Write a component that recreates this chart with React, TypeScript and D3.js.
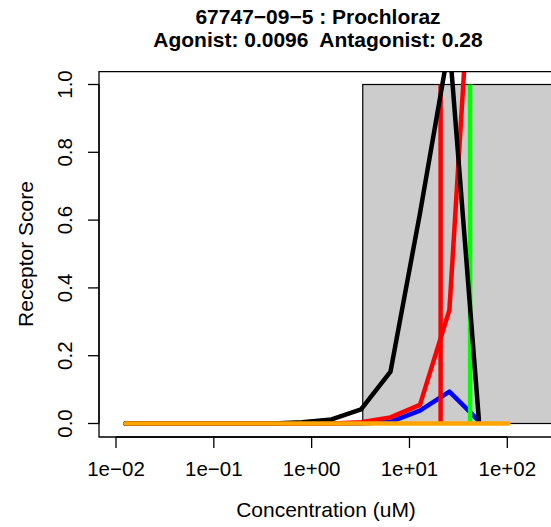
import React from "react";
import * as d3 from "d3";

const titleLines = ["67747\u221209\u22125 : Prochloraz", "Agonist: 0.0096  Antagonist: 0.28"];
const xLabel = "Concentration (uM)";
const yLabel = "Receptor Score";

const concentrations = [0.0125, 0.025, 0.05, 0.1, 0.2, 0.4, 0.8, 1.6, 3.2, 6.4, 12.8, 25.6, 51.2, 102.4];
const blackValues = [0, 0, 0, 0, 0, 0, 0.004, 0.012, 0.042, 0.153, 0.62, 1.12, 0.012, null];
const redValues = [0, 0, 0, 0, 0, 0, 0, 0, 0.004, 0.018, 0.055, 0.335, 1.75, null];
const blueValues = [0, 0, 0, 0, 0, 0, 0, 0, 0, 0.005, 0.038, 0.094, 0.008, null];
const orangeValues = [0, 0, 0, 0, 0, 0, 0, 0, 0, 0, 0, 0, 0, 0];

const xTicks = [1e-2, 1e-1, 1e0, 1e1, 1e2];
const xTickLabels = ["1e\u221202", "1e\u221201", "1e+00", "1e+01", "1e+02"];
const yTicks = [0, 0.2, 0.4, 0.6, 0.8, 1.0];
const yTickLabels = ["0.0", "0.2", "0.4", "0.6", "0.8", "1.0"];

const shadedRegion = { from: 3.33, to: 10000, low: 0, high: 1 };
const verticalMarkers = [
  { conc: 41.7, color: "#00FF00" },
  { conc: 20.8, color: "#FF0000" },
];

export default function App() {
  const W = 551, H = 527;
  const left = 99, top = 71.7, bottom = 437, right = 570;
  const x = d3.scaleLog().domain([1e-2, 1e2]).range([116, 507.3]);
  const y = d3.scaleLinear().domain([0, 1]).range([423.5, 84.5]);

  const mk = (vals: (number | null)[]) =>
    d3
      .line<number>()
      .defined((_, i) => vals[i] !== null)
      .x((_, i) => x(concentrations[i]))
      .y((_, i) => y(vals[i] as number))(concentrations) || "";

  const font = "'Liberation Sans', Arial, Helvetica, sans-serif";
  const lw = 4.5;

  return (
    <svg width={W} height={H} style={{ position: "absolute", left: 0, top: 0, background: "#fff" }} fontFamily={font}>
      <defs>
        <clipPath id="plotClip">
          <rect x={left} y={top} width={right - left} height={bottom - top} />
        </clipPath>
      </defs>
      <rect x={0} y={0} width={W} height={H} fill="#fff" />
      {titleLines.map((t, i) => (
        <text key={i} x={318} y={23.5 + i * 23.4} textAnchor="middle" fontWeight="bold" fontSize={21} fill="#000" style={{ whiteSpace: "pre" }} xmlSpace="preserve">
          {t}
        </text>
      ))}
      <g clipPath="url(#plotClip)">
        <rect
          x={x(shadedRegion.from)}
          y={y(shadedRegion.high)}
          width={x(shadedRegion.to) - x(shadedRegion.from)}
          height={y(shadedRegion.low) - y(shadedRegion.high)}
          fill="#CCCCCC"
          stroke="#000"
          strokeWidth={1.2}
        />
        <path d={mk(blueValues)} fill="none" stroke="#0000FF" strokeWidth={lw} strokeLinejoin="round" strokeLinecap="round" />
        {verticalMarkers.map((m, i) => (
          <line key={i} x1={x(m.conc)} x2={x(m.conc)} y1={y(0)} y2={y(1)} stroke={m.color} strokeWidth={lw} />
        ))}
        <path d={mk(redValues)} fill="none" stroke="#FF0000" strokeWidth={lw} strokeLinejoin="round" strokeLinecap="round" />
        <path d={mk(blackValues)} fill="none" stroke="#000000" strokeWidth={lw} strokeLinejoin="round" strokeLinecap="round" />
        <path d={mk(orangeValues)} fill="none" stroke="#FFA500" strokeWidth={lw} strokeLinejoin="round" strokeLinecap="round" />
      </g>
      <path d={`M${right},${top}H${left}V${bottom}H${right}`} fill="none" stroke="#000" strokeWidth={1.3} />
      <line x1={x(xTicks[0])} x2={x(xTicks[xTicks.length - 1])} y1={bottom} y2={bottom} stroke="#000" strokeWidth={1.3} />
      {xTicks.map((t, i) => (
        <g key={i}>
          <line x1={x(t)} x2={x(t)} y1={bottom} y2={bottom + 11} stroke="#000" strokeWidth={1.3} />
          <text x={x(t)} y={476} textAnchor="middle" fontSize={20.5} fill="#000">
            {xTickLabels[i]}
          </text>
        </g>
      ))}
      <line x1={left} x2={left} y1={y(0)} y2={y(1)} stroke="#000" strokeWidth={1.3} />
      {yTicks.map((t, i) => (
        <g key={i}>
          <line x1={left - 11} x2={left} y1={y(t)} y2={y(t)} stroke="#000" strokeWidth={1.3} />
          <text transform={`translate(72,${y(t)}) rotate(-90)`} textAnchor="middle" fontSize={20.5} fill="#000">
            {yTickLabels[i]}
          </text>
        </g>
      ))}
      <text x={326} y={516.5} textAnchor="middle" fontSize={21} fill="#000">
        {xLabel}
      </text>
      <text transform={`translate(33,254) rotate(-90)`} textAnchor="middle" fontSize={21} fill="#000">
        {yLabel}
      </text>
    </svg>
  );
}
